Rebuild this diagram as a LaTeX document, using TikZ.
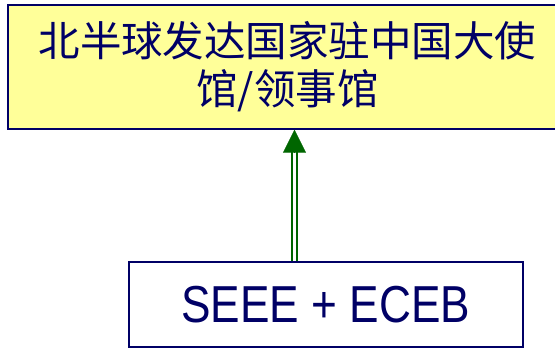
\documentclass[tikz,border=0pt]{standalone}
\usepackage{fontspec}
\setmainfont{Liberation Sans}
\newfontfamily\cjk{Noto Sans CJK SC}
\newfontfamily\latinnarrow[FakeStretch=0.85]{Liberation Sans}
\usetikzlibrary{arrows.meta}
\definecolor{navy}{RGB}{0,0,102}
\definecolor{paleyellow}{RGB}{255,255,153}
\definecolor{darkgreen}{RGB}{0,102,0}
\begin{document}
\begin{tikzpicture}[x=1pt,y=1pt,
  boxstyle/.style={draw=navy, line width=1.5pt, inner sep=0pt, text=navy, align=center},
  shaft/.style={draw=darkgreen, line width=2pt, double=white, double distance=2.2pt},
  tipstyle/.style={darkgreen, line width=0.1pt, -{Triangle[width=23pt,length=23pt]}}]
\useasboundingbox (0,0) rectangle (555,348);
\fill[white] (0,0) rectangle (555,348);
\node[boxstyle, fill=paleyellow, minimum width=559pt, minimum height=124pt,
  font={\cjk\fontsize{41.5}{48}\selectfont}] (top) at (287.5,281)
  {北半球发达国家驻中国大使\\馆/领事馆};
\node[boxstyle, fill=white, minimum width=394pt, minimum height=85pt,
  font={\latinnarrow\fontsize{52}{60}\selectfont}] (bot) at (325.8,43.5)
  {SEEE + ECEB};
\coordinate (ax) at (294.5,0);
\draw[shaft] (bot.north -| ax) -- ([yshift=-21pt]top.south -| ax);
\draw[tipstyle] ([yshift=-22pt]top.south -| ax) -- (top.south -| ax);
\end{tikzpicture}
\end{document}
